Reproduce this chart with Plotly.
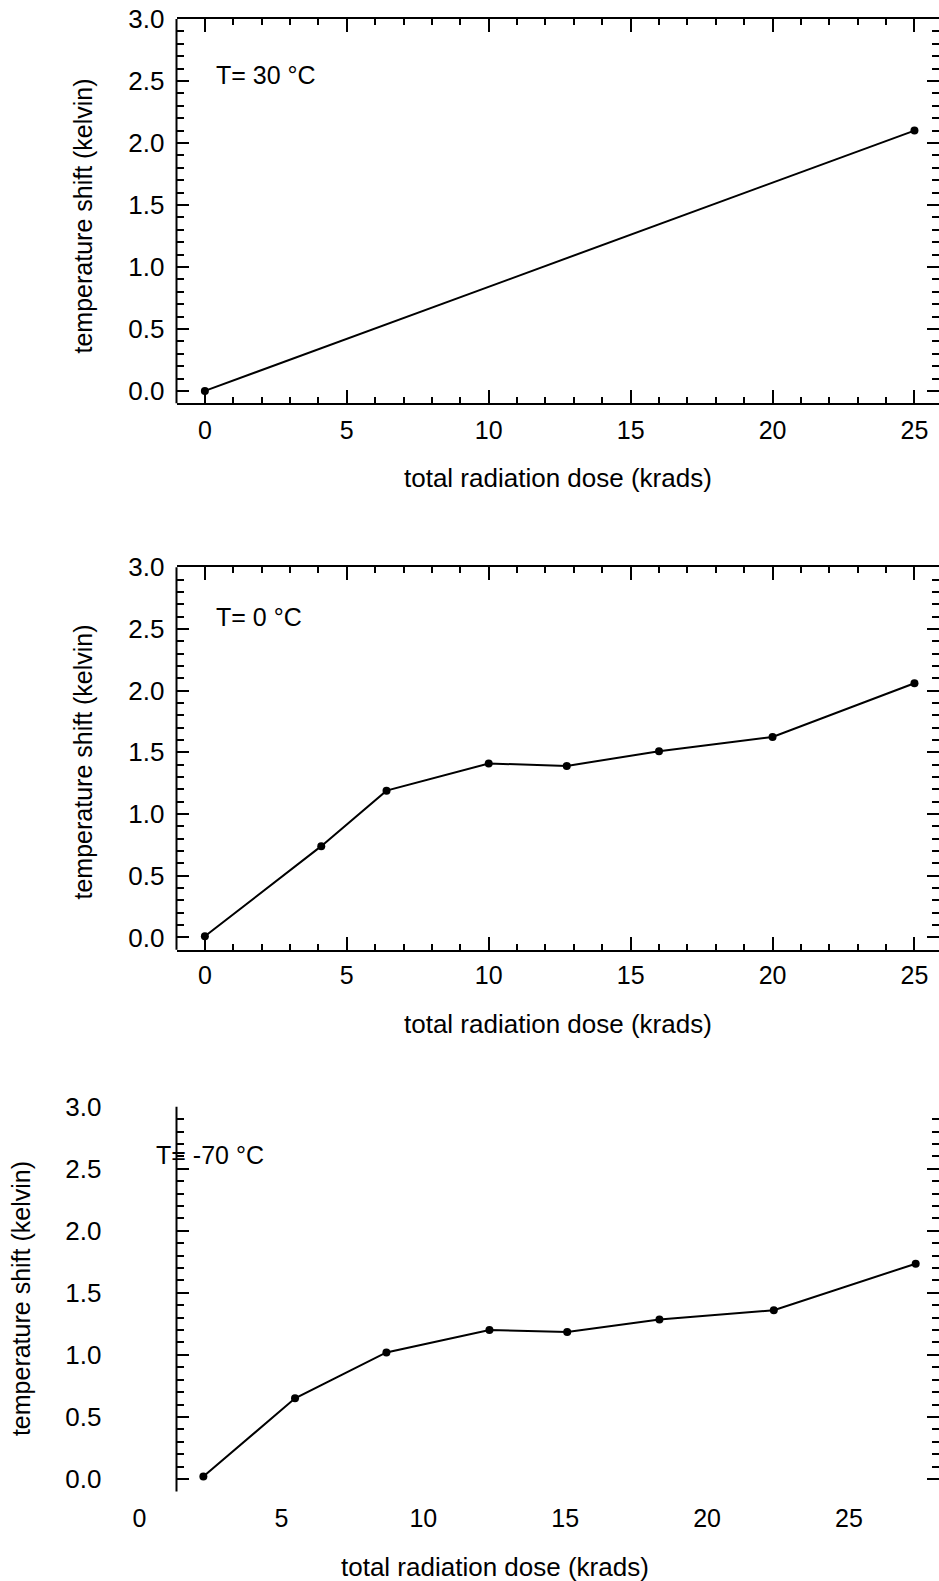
import plotly.graph_objects as go

# ---- data ----
dose_30 = [0, 25]
shift_30 = [0.0, 2.1]

dose_0 = [0, 4.1, 6.4, 10, 12.75, 16, 20, 25]
shift_0 = [0.01, 0.74, 1.19, 1.41, 1.39, 1.51, 1.625, 2.06]

dose_m70 = [2.25, 5.48, 8.70, 12.33, 15.07, 18.32, 22.35, 27.35]
shift_m70 = [0.02, 0.65, 1.02, 1.20, 1.185, 1.285, 1.36, 1.735]

x_ticks = [0, 5, 10, 15, 20, 25]
y_ticks = [0.0, 0.5, 1.0, 1.5, 2.0, 2.5, 3.0]
panel_labels = ["T= 30 °C", "T= 0 °C", "T= -70 °C"]
x_title = "total radiation dose (krads)"
y_title = "temperature shift (kelvin)"

W, H = 939, 1581
FONT = "Liberation Sans, Arial, sans-serif"


def px(x):
    return x / W


def py(y):
    return 1 - y / H


# panel pixel boxes (page coordinates): (top, bottom)
boxes = [(19, 403.3), (567.3, 949.8), (1106.7, 1491.4)]
left_px = 176.5

fig = go.Figure()

line_style = dict(color="black", width=2)
marker_style = dict(color="black", size=8)

fig.add_trace(go.Scatter(x=dose_30, y=shift_30, mode="lines+markers", line=line_style,
                         marker=marker_style, xaxis="x", yaxis="y", cliponaxis=False, showlegend=False))
fig.add_trace(go.Scatter(x=dose_0, y=shift_0, mode="lines+markers", line=line_style,
                         marker=marker_style, xaxis="x2", yaxis="y2", cliponaxis=False, showlegend=False))
fig.add_trace(go.Scatter(x=dose_m70, y=shift_m70, mode="lines+markers", line=line_style,
                         marker=marker_style, xaxis="x4", yaxis="y3", cliponaxis=False, showlegend=False))

xrange_ = [-1, (939 - 204.7) / 28.39]


def xaxis_common(anchor, labels=True, standoff=6):
    return dict(
        domain=[px(left_px), 1.0], range=xrange_, anchor=anchor, automargin=False,
        showline=True, linecolor="black", linewidth=2, mirror="ticks",
        ticks="inside", ticklen=13, tickwidth=2, tickcolor="black",
        tickvals=x_ticks, showticklabels=labels, ticklabelstandoff=standoff,
        ticklabeloverflow="allow",
        minor=dict(ticks="inside", ticklen=6, tickwidth=2, tickcolor="black", dtick=1, tick0=0, showgrid=False),
        showgrid=False, zeroline=False, fixedrange=True,
        tickfont=dict(family=FONT, size=25, color="black"),
    )


def yaxis_common(anchor, top, bottom, standoff=11):
    return dict(
        domain=[py(bottom), py(top)], range=[-0.1, 3.0], anchor=anchor, automargin=False,
        showline=False, mirror="ticks",
        ticks="inside", ticklen=12, tickwidth=2, tickcolor="black",
        tickvals=y_ticks, tickformat=".1f", ticklabelstandoff=standoff,
        ticklabeloverflow="allow",
        minor=dict(ticks="inside", ticklen=7, tickwidth=2, tickcolor="black", dtick=0.1, tick0=0, showgrid=False),
        showgrid=False, zeroline=False, fixedrange=True,
        tickfont=dict(family=FONT, size=26, color="black"),
    )


layout = dict(
    width=W, height=H,
    margin=dict(l=0, r=0, t=0, b=0, pad=0, autoexpand=False),
    paper_bgcolor="white", plot_bgcolor="white",
    showlegend=False,
    xaxis=xaxis_common("y", standoff=4),
    xaxis2=xaxis_common("y2", standoff=2),
    xaxis3=xaxis_common("y3", labels=False),
    xaxis4=dict(domain=[0, 1], range=[(0 - 139.5) / 28.38, (939 - 139.5) / 28.38], anchor="y3",
                overlaying="x3", showline=False, ticks="", tickvals=x_ticks, ticklabelstandoff=10,
                showgrid=False, zeroline=False, fixedrange=True, automargin=False,
                ticklabeloverflow="allow",
                tickfont=dict(family=FONT, size=25, color="black")),
    yaxis=yaxis_common("x", *boxes[0]),
    yaxis2=yaxis_common("x2", *boxes[1]),
    yaxis3=yaxis_common("x3", *boxes[2], standoff=74),
)
fig.update_layout(**layout)

shapes = []
for top, bottom in boxes:
    shapes.append(dict(type="line", xref="paper", yref="paper",
                       x0=px(left_px), x1=px(left_px), y0=py(bottom), y1=py(top),
                       line=dict(color="black", width=2)))
fig.update_layout(shapes=shapes)

ann = []
# panel labels
label_pos = [(214, 75), (214, 616.7), (154, 1155)]
for txt, (x, y) in zip(panel_labels, label_pos):
    ann.append(dict(text=txt, x=px(x), y=py(y), xref="paper", yref="paper",
                    xanchor="left", yanchor="middle", showarrow=False,
                    font=dict(family=FONT, size=25, color="black")))
# x titles
for x, y in [(558, 477.7), (558, 1024), (494.7, 1566.7)]:
    ann.append(dict(text=x_title, x=px(x), y=py(y), xref="paper", yref="paper",
                    xanchor="center", yanchor="middle", showarrow=False,
                    font=dict(family=FONT, size=26, color="black")))
# y titles
for x, y in [(82.5, 216), (82.5, 762), (20.5, 1298.6)]:
    ann.append(dict(text=y_title, x=px(x), y=py(y), xref="paper", yref="paper",
                    xanchor="center", yanchor="middle", textangle=-90, showarrow=False,
                    font=dict(family=FONT, size=25, color="black")))
fig.update_layout(annotations=ann)

fig.write_html("out.html", config={"displayModeBar": False, "staticPlot": True},
               post_script="document.body.style.margin='0';")
